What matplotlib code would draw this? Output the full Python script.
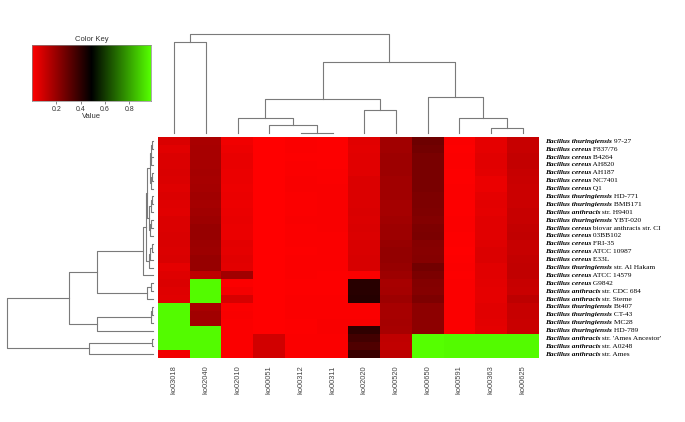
import numpy as np
import matplotlib
matplotlib.use("Agg")
import matplotlib.pyplot as plt
from matplotlib.colors import LinearSegmentedColormap
from matplotlib.transforms import blended_transform_factory

# Columns (KEGG pathways), in the order they are drawn
columns = ["ko03018", "ko02040", "ko02010", "ko00051", "ko00312", "ko00311",
           "ko02020", "ko00520", "ko00650", "ko00591", "ko00363", "ko00625"]

# Rows: species part (bold italic) and strain part (regular)
species = [
    "Bacillus thuringiensis", "Bacillus cereus", "Bacillus cereus", "Bacillus cereus",
    "Bacillus cereus", "Bacillus cereus", "Bacillus cereus", "Bacillus thuringiensis",
    "Bacillus thuringiensis", "Bacillus anthracis", "Bacillus thuringiensis",
    "Bacillus cereus", "Bacillus cereus", "Bacillus cereus", "Bacillus cereus",
    "Bacillus cereus", "Bacillus thuringiensis", "Bacillus cereus", "Bacillus cereus",
    "Bacillus anthracis", "Bacillus anthracis", "Bacillus thuringiensis",
    "Bacillus thuringiensis", "Bacillus thuringiensis", "Bacillus thuringiensis",
    "Bacillus anthracis", "Bacillus anthracis", "Bacillus anthracis",
]
strains = [
    "97-27", "F837/76", "B4264", "AH820", "AH187", "NC7401", "Q1", "HD-771",
    "BMB171", "str. H9401", "YBT-020", "biovar anthracis str. CI", "03BB102",
    "FRI-35", "ATCC 10987", "E33L", "str. Al Hakam", "ATCC 14579", "G9842",
    "str. CDC 684", "str. Sterne", "Bt407", "CT-43", "MC28", "HD-789",
    "str. 'Ames Ancestor'", "str. A0248", "str. Ames",
]

# Values per column, rows top to bottom
ko03018 = [0.075, 0.06, 0.07, 0.07, 0.075, 0.07, 0.065, 0.07, 0.065, 0.06, 0.07, 0.07, 0.075, 0.075,
           0.07, 0.075, 0.05, 0.065, 0.07, 0.065, 0.06, 0.97, 0.97, 0.97, 0.97, 0.97, 0.97, 0.03]
ko02040 = [0.165, 0.17, 0.17, 0.17, 0.175, 0.17, 0.175, 0.18, 0.175, 0.18, 0.19, 0.2, 0.2, 0.195,
           0.19, 0.2, 0.2, 0.13, 0.97, 0.97, 0.97, 0.17, 0.18, 0.18, 0.97, 0.97, 0.97, 0.97]
ko02010 = [0.03, 0.035, 0.045, 0.045, 0.04, 0.04, 0.035, 0.04, 0.035, 0.04, 0.045, 0.04, 0.04, 0.055,
           0.05, 0.06, 0.055, 0.18, 0.01, 0.02, 0.08, 0.01, 0.015, 0.01, 0.01, 0.01, 0.01, 0.01]
ko00051 = [0.0, 0.0, 0.0, 0.0, 0.0, 0.0, 0.0, 0.0, 0.0, 0.0, 0.0, 0.0, 0.0, 0.0,
           0.0, 0.0, 0.0, 0.0, 0.0, 0.0, 0.0, 0.0, 0.0, 0.0, 0.0, 0.09, 0.09, 0.09]
ko00312 = [0.01, 0.01, 0.005, 0.01, 0.01, 0.015, 0.015, 0.01, 0.01, 0.01, 0.015, 0.01, 0.01, 0.01,
           0.005, 0.01, 0.01, 0.01, 0.005, 0.005, 0.01, 0.01, 0.01, 0.005, 0.005, 0.01, 0.01, 0.01]
ko00311 = [0.005, 0.005, 0.005, 0.005, 0.01, 0.01, 0.015, 0.015, 0.015, 0.015, 0.015, 0.015, 0.01, 0.01,
           0.01, 0.01, 0.01, 0.005, 0.005, 0.005, 0.01, 0.01, 0.01, 0.015, 0.015, 0.01, 0.01, 0.01]
ko02020 = [0.06, 0.055, 0.06, 0.06, 0.06, 0.07, 0.07, 0.07, 0.07, 0.075, 0.07, 0.075, 0.07, 0.075,
           0.075, 0.08, 0.08, 0.01, 0.41, 0.41, 0.42, 0.01, 0.01, 0.015, 0.40, 0.36, 0.34, 0.38]
ko00520 = [0.18, 0.18, 0.19, 0.19, 0.19, 0.18, 0.18, 0.18, 0.175, 0.175, 0.18, 0.19, 0.19, 0.2,
           0.21, 0.21, 0.2, 0.19, 0.17, 0.175, 0.19, 0.17, 0.17, 0.175, 0.17, 0.125, 0.12, 0.13]
ko00650 = [0.28, 0.27, 0.26, 0.26, 0.26, 0.26, 0.26, 0.25, 0.25, 0.245, 0.24, 0.25, 0.255, 0.235,
           0.23, 0.235, 0.27, 0.255, 0.24, 0.235, 0.25, 0.22, 0.22, 0.22, 0.22, 0.98, 0.98, 0.98]
ko00591 = [0.01, 0.005, 0.01, 0.01, 0.005, 0.005, 0.01, 0.01, 0.005, 0.005, 0.01, 0.01, 0.005, 0.005,
           0.0, 0.005, 0.01, 0.005, 0.01, 0.01, 0.01, 0.01, 0.01, 0.01, 0.01, 0.97, 0.97, 0.97]
ko00363 = [0.05, 0.05, 0.06, 0.06, 0.055, 0.04, 0.04, 0.05, 0.055, 0.05, 0.06, 0.06, 0.06, 0.065,
           0.07, 0.07, 0.06, 0.06, 0.055, 0.05, 0.05, 0.06, 0.06, 0.055, 0.05, 0.97, 0.97, 0.97]
ko00625 = [0.11, 0.11, 0.115, 0.115, 0.11, 0.105, 0.1, 0.1, 0.1, 0.11, 0.11, 0.115, 0.12, 0.11,
           0.11, 0.115, 0.12, 0.12, 0.11, 0.105, 0.13, 0.11, 0.11, 0.105, 0.105, 0.97, 0.97, 0.97]

# Dendrograms as (left, right, height); ints are leaf indices
cols_a = ((2, (3, (4, 5, 0.5), 8), 15), (6, 7, 23), 34)
cols_b = (8, (9, (10, 11, 5.5), 15.5), 36)
col_tree = ((0, 1, 91), (cols_a, cols_b, 71), 99)

g1 = (((0, 1, 1.0), (2, 3, 1.2), 2.0), ((4, 5, 0.8), 6, 1.8), 3.0)
g2 = (((7, 8, 1.0), 9, 2.0), ((10, 11, 1.5), 12, 2.5), 4.0)
g3 = (((13, 14, 1.0), 15, 2.2), 16, 3.5)
rows_1_18 = (((g1, g2, 5.5), g3, 7.0), 17, 9.4)
rows_19_21 = ((18, 19, 2.0), 20, 6.0)
rows_22_25 = (((21, 22, 1.0), 23, 2.0), 24, 55.4)
rows_26_28 = ((25, 26, 1.0), 27, 63.5)
row_tree = (((rows_1_18, rows_19_21, 56.0), rows_22_25, 83.4), rows_26_28, 145.4)

data = np.column_stack([ko03018, ko02040, ko02010, ko00051, ko00312, ko00311,
                        ko02020, ko00520, ko00650, ko00591, ko00363, ko00625])

cmap = LinearSegmentedColormap.from_list("rbg", ["#ff0000", "#000000", "#55ff00"])
VMAX = 0.98
LINE = "#7a7a7a"

W, H = 685, 422


def box(x0, y0, x1, y1):
    """Pixel box (from top-left) -> figure fraction rect."""
    return [x0 / W, 1 - y1 / H, (x1 - x0) / W, (y1 - y0) / H]


def draw_tree(ax, node, top):
    if isinstance(node, int):
        return node, 0.0
    left, right, h = node
    pa, ha = draw_tree(ax, left, top)
    pb, hb = draw_tree(ax, right, top)
    pos, hts = [pa, pa, pb, pb], [ha, h, h, hb]
    if top:
        ax.plot(pos, hts, color=LINE, lw=0.8, clip_on=False)
    else:
        ax.plot(hts, pos, color=LINE, lw=0.8, clip_on=False)
    return (pa + pb) / 2, h


fig = plt.figure(figsize=(W / 100, H / 100), dpi=100)

# heatmap
ax = fig.add_axes(box(158.3, 137.3, 538.7, 358.3))
ax.imshow(data, cmap=cmap, vmin=0, vmax=VMAX, aspect="auto", interpolation="nearest")
for s in ax.spines.values():
    s.set_visible(False)
ax.set_yticks([])
ax.set_xticks(range(len(columns)))
ax.set_xticklabels(columns, rotation=90, fontsize=5.4, color="#444444",
                   family="Liberation Sans")
ax.tick_params(axis="x", length=0, pad=5)

trans = blended_transform_factory(ax.transAxes, ax.transData)
for i, (sp, st) in enumerate(zip(species, strains)):
    t = ax.text(1.016, i, sp, transform=trans, ha="left", va="center", fontsize=5.3,
                family="Liberation Serif", fontweight="bold", style="italic")
    ax.annotate(" " + st, xy=(1, 0.5), xycoords=t, ha="left", va="center",
                fontsize=5.3, family="Liberation Serif")

# column dendrogram
axt = fig.add_axes(box(158.3, 34, 538.7, 133))
draw_tree(axt, col_tree, True)
axt.set_xlim(-0.5, len(columns) - 0.5)
axt.set_ylim(0, 99)
axt.axis("off")

# row dendrogram
axl = fig.add_axes(box(7.3, 137.3, 152.7, 358.3))
draw_tree(axl, row_tree, False)
axl.set_ylim(len(species) - 0.5, -0.5)
axl.set_xlim(145.4, 0)
axl.axis("off")

# colour key
axk = fig.add_axes(box(32, 45, 151, 101))
axk.imshow(np.linspace(0, VMAX, 256)[None, :], extent=(0, VMAX, 0, 1), aspect="auto",
           cmap=cmap, vmin=0, vmax=VMAX)
axk.set_yticks([])
axk.set_xticks([0.2, 0.4, 0.6, 0.8])
axk.set_xticklabels(["0.2", "0.4", "0.6", "0.8"], family="Liberation Sans")
axk.tick_params(axis="x", labelsize=5, length=2, width=0.5, pad=1.5, color="#555555",
                labelcolor="#333333")
for s in axk.spines.values():
    s.set_color("#888888")
    s.set_linewidth(0.5)
axk.set_title("Color Key", fontsize=5.5, pad=3, family="Liberation Sans", color="#333333")
axk.set_xlabel("Value", fontsize=5.5, labelpad=0, family="Liberation Sans", color="#333333")

fig.savefig("out.png", dpi=100)
